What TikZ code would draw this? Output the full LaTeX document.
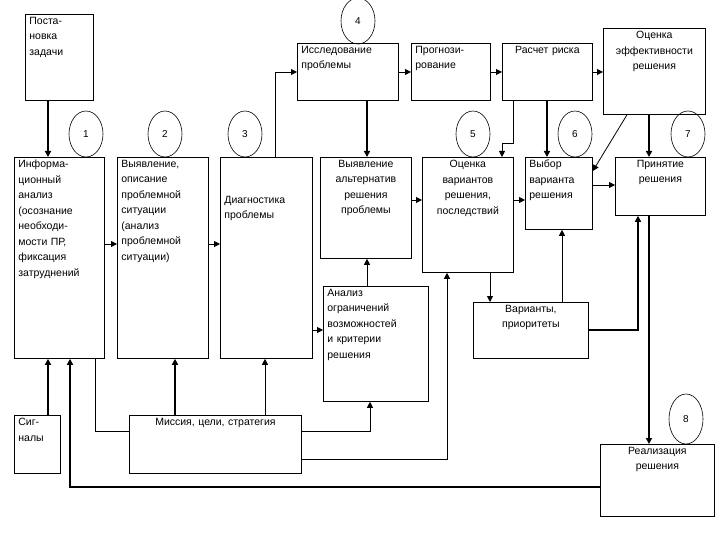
\documentclass[tikz,border=0pt]{standalone}
\usepackage{fontspec}
\setmainfont{Liberation Sans}
\usetikzlibrary{arrows.meta,shapes.geometric}
\begin{document}
\begin{tikzpicture}[x=1pt,y=-1pt,
  box/.style={draw,line width=0.8pt,inner sep=0pt,anchor=north west},
  txt/.style={inner sep=3pt,font=\fontsize{10.5}{15.5}\selectfont},
  circ/.style={draw,ellipse,line width=0.6pt,minimum width=34pt,minimum height=46pt,inner sep=0pt,font=\fontsize{10}{12}\selectfont},
  th/.style={line width=1.8pt,-{Triangle[length=6pt,width=6pt]}},
  tn/.style={line width=0.8pt,-{Triangle[length=6pt,width=6pt]}},
  pl/.style={line width=0.8pt}]
\useasboundingbox (0,0) rectangle (720,540);
\fill[white] (0,0) rectangle (720,540);
\newcommand\bxx[8]{%
  \node[box,minimum width=#4pt-#2pt,minimum height=#5pt-#3pt] (#1) at (#2,#3) {};
  \node[txt,anchor=north,text width=#4pt-#2pt-8pt,align=#6,yshift=#7] (#1T) at (#1.north) {#8};}
\bxx{post}{25}{14}{93}{100}{left}{0pt}{Поста-\\новка\\задачи}
\bxx{issl}{297}{43}{398}{100}{left}{0pt}{Исследование\\проблемы}
\bxx{prog}{411}{43}{490}{100}{left}{0pt}{Прогнози-\\рование}
\bxx{risk}{502}{43}{592}{100}{center}{0pt}{Расчет риска}
\bxx{eff}{603}{28}{705}{114}{center}{0pt}{Оценка\\эффективности\\решения}
\bxx{inf}{14}{157}{104}{358}{left}{0pt}{Информа-\\ционный\\анализ\\(осознание\\необходи-\\мости ПР,\\фиксация\\затруднений}
\bxx{vyav}{117}{157}{208}{358}{left}{0pt}{Выявление,\\описание\\проблемной\\ситуации\\(анализ\\проблемной\\ситуации)}
\bxx{diag}{220}{157}{312}{358}{left}{-36pt}{Диагностика\\проблемы}
\bxx{alt}{320}{157}{411}{258}{center}{0pt}{Выявление\\альтернатив\\решения\\проблемы}
\bxx{anal}{323}{286}{428}{401}{left}{0pt}{Анализ\\ограничений\\возможностей\\и критерии\\решения}
\bxx{ocv}{422}{157}{513}{272}{center}{0pt}{Оценка\\вариантов\\решения,\\последствий}
\bxx{vyb}{525}{157}{592}{229}{left}{0pt}{Выбор\\варианта\\решения}
\bxx{prin}{615}{157}{705}{215}{center}{0pt}{Принятие\\решения}
\bxx{var}{473}{302}{588}{358}{center}{0pt}{Варианты,\\приоритеты}
\bxx{sig}{14}{415}{60}{473}{left}{0pt}{Сиг-\\налы}
\bxx{mis}{129}{415}{301}{473}{center}{0pt}{Миссия, цели, стратегия}
\bxx{real}{600}{444}{714}{516}{center}{0pt}{Реализация\\решения}
\node[circ] (c4) at (358,21) {4};
\node[circ] (c1) at (86,134) {1};
\node[circ] (c2) at (165,134) {2};
\node[circ] (c3) at (245,134) {3};
\node[circ] (c5) at (473,134) {5};
\node[circ] (c6) at (575,134) {6};
\node[circ] (c7) at (688,134) {7};
\node[circ,minimum height=50pt] (c8) at (686,419) {8};
% connectors
\draw[th] (post.south -| 48,0) -- (inf.north -| 48,0);
\draw[tn] (inf.east |- 0,244) -- (vyav.west |- 0,244);
\draw[tn] (vyav.east |- 0,244) -- (diag.west |- 0,244);
\draw[tn] (diag.north -| 275,0) |- (issl.west |- 0,72);
\draw[tn] (issl.east |- 0,72) -- (prog.west |- 0,72);
\draw[tn] (prog.east |- 0,72) -- (risk.west |- 0,72);
\draw[tn] (risk.east |- 0,72) -- (eff.west |- 0,72);
\draw[th] (issl.south -| 367,0) -- (alt.north -| 367,0);
\draw[tn] (risk.south -| 513,0) -- (513,143) -- (502,143) -- (ocv.north -| 502,0);
\draw[th] (risk.south -| 547,0) -- (vyb.north -| 547,0);
\draw[tn] (eff.south -| 627,0) -- (vyb.east |- 0,171);
\draw[th] (eff.south -| 649,0) -- (prin.north -| 649,0);
\draw[tn] (vyb.east |- 0,185) -- (prin.west |- 0,185);
\draw[tn] (alt.east |- 0,200) -- (ocv.west |- 0,200);
\draw[tn] (ocv.east |- 0,200) -- (vyb.west |- 0,200);
\draw[tn] (anal.north -| 367,0) -- (alt.south -| 367,0);
\draw[tn] (diag.east |- 0,330) -- (anal.west |- 0,330);
\draw[tn] (ocv.south -| 490,0) -- (var.north -| 490,0);
\draw[tn] (mis.east |- 0,459) -| (ocv.south -| 447,0);
\draw[th] (var.east |- 0,330) -| (prin.south -| 638,0);
\draw[th] (prin.south -| 649,0) -- (real.north -| 649,0);
\draw[tn] (var.north -| 562,0) -- (vyb.south -| 562,0);
\draw[th] (sig.north -| 48,0) -- (inf.south -| 48,0);
\draw[th] (real.west |- 0,487) -| (inf.south -| 70,0);
\draw[pl] (inf.south -| 95,0) |- (mis.west |- 0,431);
\draw[th] (mis.north -| 175,0) -- (vyav.south -| 175,0);
\draw[tn] (mis.north -| 265,0) -- (diag.south -| 265,0);
\draw[tn] (mis.east |- 0,431) -| (anal.south -| 370,0);
\end{tikzpicture}
\end{document}
